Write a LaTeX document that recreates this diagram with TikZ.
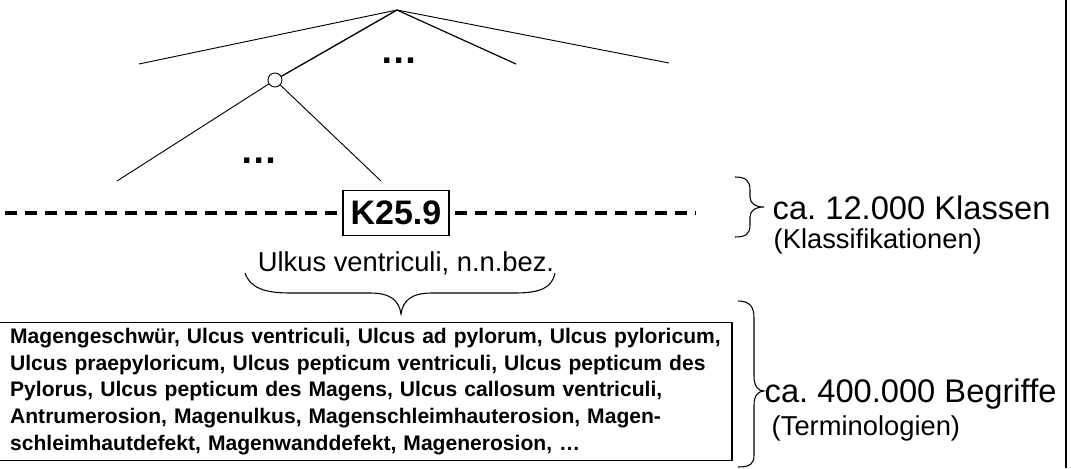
\documentclass[tikz,border=0pt]{standalone}
\usepackage{fontspec}
\setmainfont{Liberation Sans}
\usetikzlibrary{positioning}

\tikzset{
	ast/.style={black, line width=0.7pt},
	klammer/.style={black, line width=0.8pt},
	ebene/.style={black, line width=2.6pt, dash pattern=on 9pt off 6pt},
	gross/.style={font=\fontsize{24.5}{28}\selectfont},
	klein/.style={font=\fontsize{20.5}{24}\selectfont},
	punkte/.style={font=\bfseries\fontsize{28}{30}\selectfont},
}

\begin{document}
\frenchspacing
\begin{tikzpicture}[x=0.75pt, y=-0.75pt]
		\useasboundingbox (0,0) rectangle (1071,468);
		% Baum
		\coordinate (wurzel) at (397,10);
		\coordinate (links) at (139,64);
		\coordinate (mitte) at (516,64);
		\coordinate (rechts) at (669,63);
		\node[circle, draw, line width=0.7pt, inner sep=0pt, minimum size=10.5pt] (knoten) at (275,80) {};
		\coordinate (blattL) at (117,181);
		\coordinate (blattR) at (381,181);
		\node[punkte] (punkteO) at (399,61) {…};
		\node[punkte] (punkteU) at (259,161) {…};
		\draw[ast] (wurzel) -- (links);
		\draw[ast, line width=1pt] (wurzel) -- (knoten);
		\draw[ast, line width=0.9pt] (wurzel) -- (mitte);
		\draw[ast] (wurzel) -- (rechts);
		\draw[ast] (knoten) -- (blattL);
		\draw[ast] (knoten) -- (blattR);
		% Klassenebene
		\node[draw, line width=0.8pt, font=\bfseries\fontsize{25.5}{28}\selectfont, minimum width=79.5pt, minimum height=34pt, inner sep=0pt] (klasse) at (396,213) {K25.9};
		\coordinate (ebeneL) at (5,213);
		\coordinate (ebeneR) at (695,213);
		\draw[ebene] (ebeneL) -- ([xshift=-4pt]klasse.west);
		\draw[ebene] ([xshift=4pt]klasse.east) -- (ebeneR);
		\node[klein, anchor=base] (titel) at (406,271) {Ulkus ventriculi, n.n.bez.};
		\draw[klammer] (245,273) .. controls (250,288) and (265,293) .. (290,293) -- (370,293) .. controls (390,293) and (399,300) .. (401,314) .. controls (403,300) and (412,293) .. (432,293) -- (515,293) .. controls (540,293) and (552,288) .. (555,273);
		% Begriffe
		\node[draw, line width=0.8pt, minimum width=549.75pt, minimum height=104pt, inner xsep=8pt, text width=533pt, align=left, font=\bfseries\fontsize{15.8}{20}\selectfont] (begriffe) at (365.5,391.5) {Magengeschwür, Ulcus ventriculi, Ulcus ad pylorum, Ulcus pyloricum,\\
		Ulcus praepyloricum, Ulcus pepticum ventriculi, Ulcus pepticum des\\
		Pylorus, Ulcus pepticum des Magens, Ulcus callosum ventriculi,\\
		Antrumerosion, Magenulkus, Magenschleimhauterosion, Magen-\\
		schleimhautdefekt, Magenwanddefekt, Magenerosion, …};
		% Mengenangaben
		\draw[klammer] (735,177) .. controls (746,177) and (750,181) .. (750,190) -- (750,197) .. controls (750,203) and (755,207) .. (764,207) .. controls (755,207) and (750,211) .. (750,217) -- (750,225) .. controls (750,234) and (746,237) .. (735,237);
		\node[gross, anchor=base west] (klassen) at (768,219) {ca. 12.000 Klassen};
		\node[klein, anchor=base west] (klassifikation) at (769,248) {(Klassifikationen)};
		\draw[klammer] (738,301) .. controls (750,301) and (754,307) .. (754,318) -- (754,376) .. controls (754,386) and (758,391) .. (764,391) .. controls (758,391) and (754,396) .. (754,405) -- (754,455) .. controls (754,464) and (750,467) .. (738,467);
		\node[gross, anchor=base west] (begriffzahl) at (760,402) {ca. 400.000 Begriffe};
		\node[klein, anchor=base west] (terminologie) at (767,435) {(Terminologien)};
		\draw[line width=1pt] (1066,0) -- (1066,468);
	\end{tikzpicture}
\end{document}
